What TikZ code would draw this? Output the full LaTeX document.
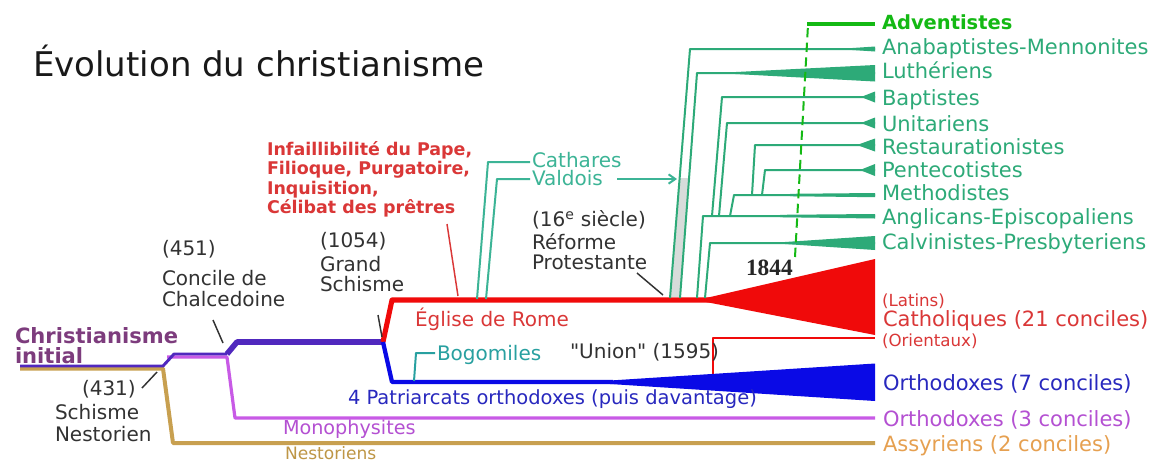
\documentclass[tikz,border=0pt]{standalone}
\usepackage{fontspec}
\setmainfont{DejaVu Sans}
\newfontfamily\serifbold{Liberation Serif}
\usetikzlibrary{arrows.meta}
\definecolor{protgreen}{RGB}{45,170,120}
\definecolor{advgreen}{RGB}{20,185,20}
\definecolor{cathteal}{RGB}{60,180,150}
\definecolor{bogteal}{RGB}{40,160,160}
\definecolor{redline}{RGB}{240,10,10}
\definecolor{redtext}{RGB}{218,55,55}
\definecolor{blueline}{RGB}{10,10,230}
\definecolor{bluetext}{RGB}{40,40,190}
\definecolor{indigo}{RGB}{80,40,190}
\definecolor{magline}{RGB}{200,90,230}
\definecolor{magtext}{RGB}{180,80,210}
\definecolor{tanline}{RGB}{200,160,80}
\definecolor{tantext}{RGB}{190,150,70}
\definecolor{assyr}{RGB}{230,160,80}
\definecolor{purpletext}{RGB}{125,60,125}
\definecolor{darkgray}{RGB}{50,50,50}
\definecolor{bandgray}{RGB}{215,220,218}
\tikzset{
  txt/.style={anchor=base west, inner sep=0pt, outer sep=0pt},
  big/.style={txt, font=\fontsize{15.75}{18}\selectfont},
  mid/.style={txt, font=\fontsize{15}{18}\selectfont},
  small/.style={txt, font=\fontsize{12.5}{14}\selectfont},
  redb/.style={txt, text=redtext, font=\fontsize{13.1}{16}\bfseries\selectfont},
  branch/.style={protgreen, line width=1.5pt},
  pointer/.style={darkgray, line width=1.1pt},
}
\begin{document}
\begin{tikzpicture}[x=0.75pt,y=-0.75pt,line join=round]
\useasboundingbox (0,0) rectangle (1153,462);
\fill[white] (0,0) rectangle (1153,462);

% ---------- title ----------
\node[txt, font=\fontsize{25.5}{30}\selectfont, text=black!90] (title) at (33,76) {Évolution du christianisme};

% ---------- coordinates of the main trunk ----------
\coordinate (s0) at (20,366);
\coordinate (k431) at (163,366);
\coordinate (k451) at (227,354);
\coordinate (k1054) at (383,342);
\coordinate (romeA) at (392,300);
\coordinate (romeW) at (712,300);
\coordinate (orthA) at (392,382);
\coordinate (orthW) at (613,382);

% Nestorian branch (tan)
\draw[tanline, line width=3pt] (20,368.5) -- (163,368.5) -- (173,443) -- (875,443);
% Monophysite branch (magenta)
\draw[magline, line width=2.4pt] (167,357) -- (227,357) -- (235,418) -- (875,418);
% early trunk (indigo)
\draw[indigo, line width=2.2pt] (s0) -- (k431) -- (174,354) -- (k451);
\draw[indigo, line width=4.2pt] (k451) -- (237,342) -- (k1054);

% Rome (red)
\draw[redline, line width=3.8pt] (k1054) -- (romeA) -- (romeW);
\fill[redline] (706,298) -- (875,259) -- (875,335) -- (706,302) -- cycle;
% Eastern Catholics
\draw[redline, line width=1.6pt] (713,381) -- (713,338) -- (875,338);

% Orthodox (blue)
\draw[blueline, line width=3.2pt] (k1054) -- (orthA) -- (orthW);
\fill[blueline] (610,380.5) -- (875,363.5) -- (875,401) -- (610,384) -- cycle;

% Bogomiles
\draw[bogteal, line width=1.5pt] (414,381) -- (416,353) -- (435,353);

% Cathares / Valdois
\draw[cathteal, line width=1.5pt] (477,299) -- (488,162) -- (530,162);
\draw[cathteal, line width=1.5pt] (486,299) -- (497,179) -- (530,179);

% ---------- Protestant tree ----------
\fill[bandgray] (670.5,297) -- (679.5,178) -- (689,178) -- (680,297) -- cycle;
\draw[branch] (670,298) -- (690,49) -- (875,49);
\fill[protgreen] (848,48.3) -- (875,46.5) -- (875,51.5) -- (848,49.7) -- cycle;
\draw[branch] (680,298) -- (697,73) -- (875,73);
\fill[protgreen] (730,72.3) -- (875,65) -- (875,81.5) -- (730,73.7) -- cycle;
\draw[branch] (697,298) -- (703,216) -- (875,216);
\fill[protgreen] (780,214.8) -- (875,214) -- (875,218.5) -- (780,217.2) -- cycle;
\draw[branch] (705,298) -- (710,243) -- (875,243);
\fill[protgreen] (785,242) -- (875,236) -- (875,250) -- (785,244) -- cycle;
\draw[branch] (712,216) -- (722,97) -- (875,97);
\fill[protgreen] (861,97) -- (875,91.5) -- (875,102.5) -- cycle;
\draw[branch] (719,216) -- (727,123) -- (875,123);
\fill[protgreen] (861,123) -- (875,117.5) -- (875,128.5) -- cycle;
\draw[branch] (730,216) -- (734,195) -- (875,195);
\fill[protgreen] (790,193.8) -- (875,193) -- (875,197.2) -- (790,196.2) -- cycle;
\draw[branch] (752,195) -- (755,145) -- (875,145);
\fill[protgreen] (857,145) -- (875,138.5) -- (875,151.5) -- cycle;
\draw[branch] (762,195) -- (765,170) -- (875,170);
\fill[protgreen] (860,170) -- (875,164) -- (875,176) -- cycle;
% Adventistes
\draw[advgreen, line width=1.5pt, dash pattern=on 7pt off 4pt] (795,257) -- (808,25);
\draw[advgreen, line width=3pt] (807,24) -- (875,24);

% Valdois arrow
\draw[cathteal, line width=1.5pt, -{Straight Barb[length=5pt,width=7pt]}] (617,179) -- (677,179);

% ---------- pointers ----------
\draw[pointer] (142,388) -- (157,372);
\draw[pointer] (213,320) -- (223,343);
\draw[pointer] (378,315) -- (382,337);
\draw[pointer] (637,273) -- (663,295);
\draw[redtext, line width=1.1pt] (447,224) -- (458,296);

% ---------- left labels ----------
\node[txt, text=purpletext, font=\fontsize{15.8}{18}\bfseries\selectfont] (chr1) at (15,343) {Christianisme};
\node[txt, text=purpletext, font=\fontsize{15.8}{18}\bfseries\selectfont] (chr2) at (15,363) {initial};

\node[mid, text=darkgray] (l431) at (82,395) {(431)};
\node[mid, text=darkgray] (sch1) at (55,419) {Schisme};
\node[mid, text=darkgray] (nes1) at (55,441) {Nestorien};

\node[mid, text=darkgray] (l451) at (162,255) {(451)};
\node[mid, text=darkgray] (con1) at (162,285) {Concile de};
\node[mid, text=darkgray] (con2) at (162,306) {Chalcedoine};

\node[mid, text=darkgray] (l1054) at (320,247) {(1054)};
\node[mid, text=darkgray] (gs1) at (320,271) {Grand};
\node[mid, text=darkgray] (gs2) at (320,291) {Schisme};

\node[redb] (r1) at (267,155) {Infaillibilité du Pape,};
\node[redb] (r2) at (267,174) {Filioque, Purgatoire,};
\node[redb] (r3) at (267,194) {Inquisition,};
\node[redb] (r4) at (267,213) {Célibat des prêtres};

\node[mid, text=cathteal] (cath) at (532,167) {Cathares};
\node[mid, text=cathteal] (vald) at (532,185) {Valdois};

\node[mid, text=darkgray] (siec) at (532,226) {(16\textsuperscript{e} siècle)};
\node[mid, text=darkgray] (ref1) at (532,249) {Réforme};
\node[mid, text=darkgray] (ref2) at (532,269) {Protestante};

\node[txt, font=\fontsize{17.5}{20}\serifbold\bfseries\selectfont, text=black!85] (y1844) at (746,275) {1844};

\node[mid, text=redtext] (rome) at (415,326) {Église de Rome};
\node[mid, text=bogteal] (bogo) at (437,360) {Bogomiles};
\node[mid, text=darkgray] (union) at (570,358) {\textquotedbl Union\textquotedbl{} (1595)};
\node[txt, font=\fontsize{14.6}{17}\selectfont, text=bluetext] (patr) at (348,404) {4 Patriarcats orthodoxes (puis davantage)};
\node[txt, font=\fontsize{14.4}{17}\selectfont, text=magtext] (mono) at (283,434) {Monophysites};
\node[txt, font=\fontsize{12.8}{16}\selectfont, text=tantext] (nest) at (285,459) {Nestoriens};

% ---------- right labels ----------
\node[txt, text=advgreen, font=\fontsize{14.6}{18}\bfseries\selectfont] (adv) at (882,29.5) {Adventistes};
\node[big, text=protgreen] (ana) at (882,54) {Anabaptistes-Mennonites};
\node[big, text=protgreen] (lut) at (882,78.5) {Luthériens};
\node[big, text=protgreen] (bap) at (882,105) {Baptistes};
\node[big, text=protgreen] (uni) at (882,131) {Unitariens};
\node[big, text=protgreen] (res) at (882,154) {Restaurationistes};
\node[big, text=protgreen] (pen) at (882,177.5) {Pentecotistes};
\node[big, text=protgreen] (met) at (882,200.5) {Methodistes};
\node[big, text=protgreen] (ang) at (882,224.5) {Anglicans-Episcopaliens};
\node[big, text=protgreen] (cal) at (882,249.5) {Calvinistes-Presbyteriens};

\node[small, text=redtext] (lat) at (882,306) {(Latins)};
\node[big, text=redtext] (cat) at (883,326.5) {Catholiques (21 conciles)};
\node[small, text=redtext] (ori) at (882,346) {(Orientaux)};
\node[big, text=bluetext] (or7) at (883,390.5) {Orthodoxes (7 conciles)};
\node[big, text=magtext] (or3) at (883,426) {Orthodoxes (3 conciles)};
\node[big, text=assyr] (ass) at (883,451.5) {Assyriens (2 conciles)};
\end{tikzpicture}
\end{document}
